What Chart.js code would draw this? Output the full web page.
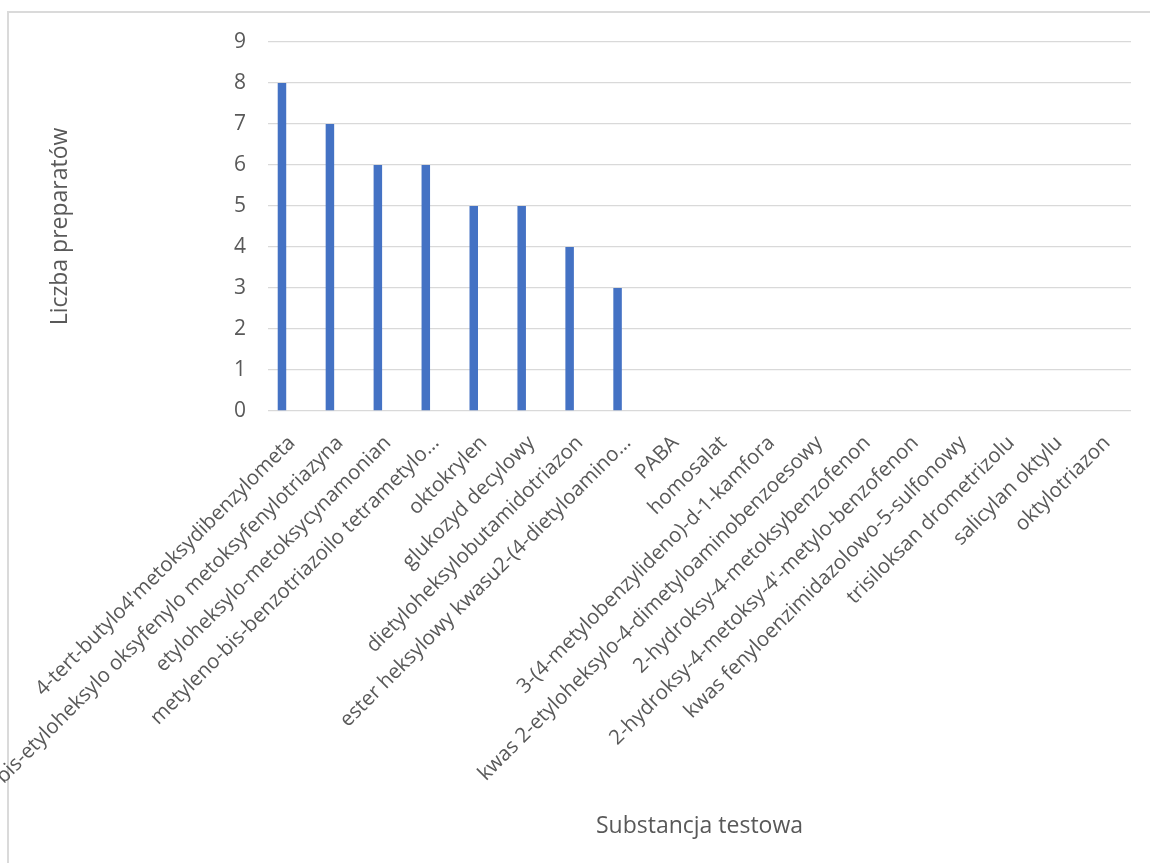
<!DOCTYPE html>
<html lang="pl">
<head>
<meta charset="utf-8">
<title>Liczba preparatów według substancji testowej</title>
<script src="https://cdn.jsdelivr.net/npm/chart.js@4.4.1/dist/chart.umd.min.js"></script>
<style>
  html, body { margin: 0; padding: 0; background: #ffffff; }
  #wrap { position: relative; width: 1150px; height: 863px; overflow: hidden; }
  #frame {
    position: absolute; left: 7px; top: 11px; width: 2000px; height: 2000px;
    border-left: 2px solid #dadada; border-top: 2px solid #dadada;
    pointer-events: none;
  }
  canvas { position: absolute; left: 0; top: 0; }
</style>
</head>
<body>
<div id="wrap">
  <div id="frame"></div>
  <canvas id="chart" width="1150" height="863"></canvas>
</div>
<script>
// Substancje testowe (oś X)
const substances = [
  "4-tert-butylo4'metoksydibenzylometa",
  "bis-etyloheksylo oksyfenylo metoksyfenylotriazyna",
  "etyloheksylo-metoksycynamonian",
  "metyleno-bis-benzotriazoilo tetrametylo…",
  "oktokrylen",
  "glukozyd decylowy",
  "dietyloheksylobutamidotriazon",
  "ester heksylowy kwasu2-(4-dietyloamino…",
  "PABA",
  "homosalat",
  "3-(4-metylobenzylideno)-d-1-kamfora",
  "kwas 2-etyloheksylo-4-dimetyloaminobenzoesowy",
  "2-hydroksy-4-metoksybenzofenon",
  "2-hydroksy-4-metoksy-4'-metylo-benzofenon",
  "kwas fenyloenzimidazolowo-5-sulfonowy",
  "trisiloksan drometrizolu",
  "salicylan oktylu",
  "oktylotriazon"
];

// Liczba preparatów zawierających daną substancję
const preparationCounts = [8, 7, 6, 6, 5, 5, 4, 3, 0, 0, 0, 0, 0, 0, 0, 0, 0, 0];

// Dwie puste serie arkusza (bez wartości) – zajmują miejsca w grupie słupków
const emptySeriesB = [];
const emptySeriesC = [];

// Etykiety osi Y
const yTicks = [0, 1, 2, 3, 4, 5, 6, 7, 8, 9];

const textColor = '#595959';
const gridColor = '#d9d9d9';
const fontFamily = "'Open Sans', 'Noto Sans', sans-serif";

new Chart(document.getElementById('chart'), {
  type: 'bar',
  data: {
    labels: substances,
    datasets: [
      {
        label: 'Liczba preparatów',
        data: preparationCounts,
        backgroundColor: '#4472c4',
        borderWidth: 0,
        categoryPercentage: 0.626,
        barPercentage: 0.85
      },
      { label: 'B', data: emptySeriesB, backgroundColor: '#ed7d31', categoryPercentage: 0.626, barPercentage: 0.85 },
      { label: 'C', data: emptySeriesC, backgroundColor: '#a5a5a5', categoryPercentage: 0.626, barPercentage: 0.85 }
    ]
  },
  options: {
    responsive: false,
    animation: false,
    layout: { padding: { left: 0, right: 19, top: 42, bottom: 19 } },
    plugins: {
      legend: { display: false },
      tooltip: { enabled: false }
    },
    scales: {
      x: {
        grid: { display: false },
        border: { display: false },
        ticks: {
          autoSkip: false,
          maxRotation: 45,
          minRotation: 45,
          padding: 12,
          color: textColor,
          font: { family: fontFamily, size: 20.5 }
        },
        title: {
          display: true,
          text: 'Substancja testowa',
          color: textColor,
          font: { family: fontFamily, size: 23 },
          padding: { top: 4, bottom: 4 }
        },
        afterFit: (scale) => { scale.height = 433; }
      },
      y: {
        min: 0,
        max: 9,
        afterBuildTicks: (scale) => { scale.ticks = yTicks.map(v => ({ value: v })); },
        grid: { color: gridColor, lineWidth: 1.3, drawTicks: false },
        border: { display: false },
        ticks: {
          padding: 22,
          color: textColor,
          font: { family: fontFamily, size: 21 }
        },
        title: {
          display: true,
          text: 'Liczba preparatów',
          color: textColor,
          font: { family: fontFamily, size: 23 },
          padding: { top: 47, bottom: 0 }
        },
        afterFit: (scale) => { scale.width = 268; }
      }
    }
  }
});
</script>
</body>
</html>
